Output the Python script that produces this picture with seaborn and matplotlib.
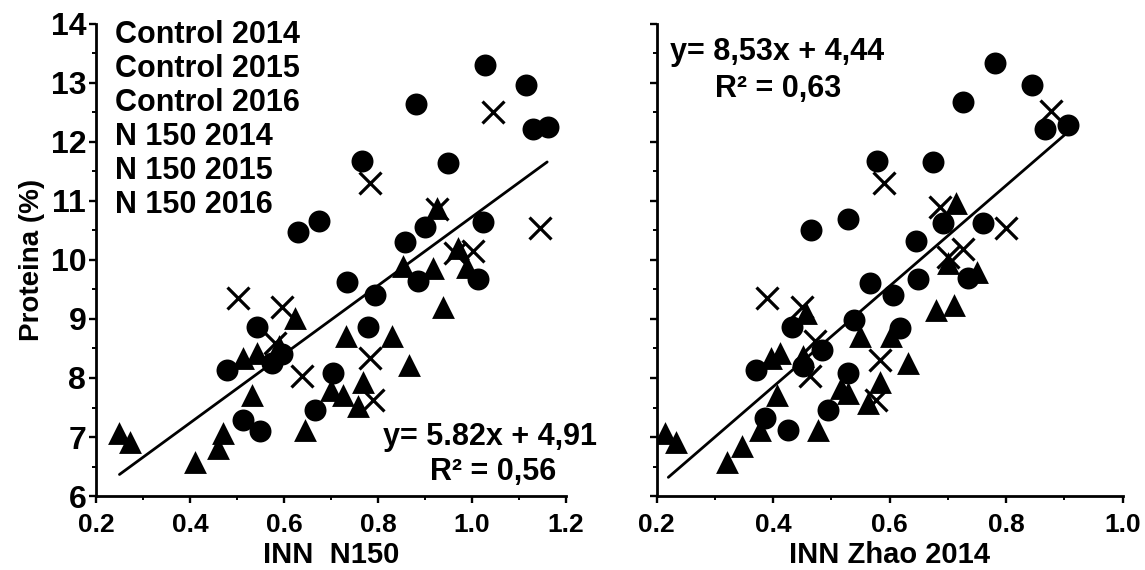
import numpy as np
import pandas as pd
import matplotlib
matplotlib.use("Agg")
import matplotlib.pyplot as plt
from matplotlib.ticker import MultipleLocator
import seaborn as sns

# values
groups = ["Control 2014", "Control 2015", "Control 2016",
          "N 150 2014", "N 150 2015", "N 150 2016"]

# left panel: INN N150
left_circle_x = [1.028, 1.114, 0.881, 1.130, 1.162, 0.765, 0.948, 1.024, 0.630, 0.675, 0.900, 0.857, 0.735,
                 0.886, 1.013, 0.794, 0.542, 0.779, 0.478, 0.575, 0.595, 0.705, 0.513, 0.549, 0.666]
left_circle_y = [13.30, 12.96, 12.65, 12.22, 12.25, 11.68, 11.65, 10.64, 10.48, 10.66, 10.56, 10.31, 9.62,
                 9.64, 9.67, 9.41, 8.86, 8.86, 8.14, 8.25, 8.40, 8.08, 7.29, 7.11, 7.45]
left_tri_x = [0.925, 0.970, 0.854, 0.918, 0.990, 0.939, 0.623, 0.733, 0.829, 0.865, 0.513, 0.542, 0.590,
              0.531, 0.701, 0.726, 0.769, 0.758, 0.645, 0.471, 0.460, 0.411, 0.250, 0.272]
left_tri_y = [10.88, 10.20, 9.90, 9.87, 9.88, 9.21, 9.02, 8.71, 8.71, 8.22, 8.34, 8.42, 8.55,
              7.71, 7.80, 7.71, 7.94, 7.52, 7.12, 7.06, 6.81, 6.58, 7.06, 6.92]
left_cross_x = [1.045, 0.783, 1.145, 0.964, 1.003, 0.925, 0.503, 0.595, 0.638, 0.783, 0.790, 0.580]
left_cross_y = [12.50, 11.31, 10.54, 10.12, 10.15, 10.86, 9.36, 9.21, 8.03, 8.34, 7.63, 8.60]

# right panel: INN Zhao 2014
right_circle_x = [0.781, 0.845, 0.726, 0.866, 0.906, 0.579, 0.674, 0.465, 0.529, 0.760, 0.691, 0.646, 0.566,
                  0.649, 0.734, 0.606, 0.538, 0.433, 0.617, 0.483, 0.371, 0.451, 0.529, 0.494, 0.386, 0.426]
right_circle_y = [13.33, 12.96, 12.67, 12.22, 12.29, 11.68, 11.66, 10.50, 10.69, 10.63, 10.62, 10.32, 9.61,
                  9.67, 9.70, 9.41, 8.99, 8.87, 8.85, 8.48, 8.14, 8.20, 8.08, 7.46, 7.32, 7.12]
right_tri_x = [0.714, 0.700, 0.750, 0.680, 0.711, 0.457, 0.549, 0.603, 0.411, 0.397, 0.451, 0.631,
               0.517, 0.529, 0.583, 0.563, 0.406, 0.477, 0.377, 0.346, 0.321, 0.214, 0.233]
right_tri_y = [10.97, 9.95, 9.80, 9.16, 9.24, 9.10, 8.71, 8.71, 8.42, 8.34, 8.37, 8.25,
               7.83, 7.74, 7.94, 7.57, 7.71, 7.12, 7.12, 6.84, 6.58, 7.06, 6.92]
right_cross_x = [0.877, 0.591, 0.800, 0.686, 0.726, 0.700, 0.389, 0.450, 0.471, 0.463, 0.583, 0.577]
right_cross_y = [12.53, 11.31, 10.55, 10.89, 10.18, 10.05, 9.36, 9.21, 8.62, 8.03, 8.31, 7.63]

# fitted lines shown on the chart
left_fit = (5.82, 4.91, 0.25, 1.16)
right_fit = (8.53, 4.44, 0.22, 0.905)

sns.set_style("ticks")
plt.rcParams['font.family'] = ['Liberation Sans', 'DejaVu Sans']
plt.rcParams['text.color'] = 'black'
plt.rcParams['axes.labelcolor'] = 'black'
plt.rcParams['xtick.color'] = 'black'
plt.rcParams['ytick.color'] = 'black'
plt.rcParams['axes.edgecolor'] = 'black'

fig = plt.figure(figsize=(11.45, 5.70), dpi=100)
ax1 = fig.add_axes([0.0838, 0.1298, 0.4105, 0.8282])
ax2 = fig.add_axes([0.5735, 0.1298, 0.4070, 0.8282])


def draw_panel(ax, cx, cy, tx, ty, xx, xy, fit):
    sns.scatterplot(x=cx, y=cy, ax=ax, marker='o', s=250, color='black', linewidth=0)
    sns.scatterplot(x=tx, y=ty, ax=ax, marker='^', s=270, color='black', linewidth=0)
    sns.scatterplot(x=xx, y=xy, ax=ax, marker='x', s=250, color='black', linewidth=2.3)
    slope, icpt, x0, x1 = fit
    lx = np.array([x0, x1])
    ax.plot(lx, slope * lx + icpt, color='black', lw=2.0)
    ax.set_ylim(6, 14)
    ax.yaxis.set_major_locator(MultipleLocator(1))
    ax.yaxis.set_minor_locator(MultipleLocator(0.5))
    ax.xaxis.set_major_locator(MultipleLocator(0.2))
    ax.xaxis.set_minor_locator(MultipleLocator(0.1))
    for side in ['top', 'right']:
        ax.spines[side].set_visible(False)
    for side in ['left', 'bottom']:
        ax.spines[side].set_linewidth(2.0)
    ax.tick_params(which='major', length=5, width=1.7, color='black')
    ax.tick_params(which='minor', length=3, width=1.4, color='black')
    ax.tick_params(axis='x', labelsize=19, pad=7)
    ax.tick_params(axis='y', labelsize=23, pad=2)


draw_panel(ax1, left_circle_x, left_circle_y, left_tri_x, left_tri_y,
           left_cross_x, left_cross_y, left_fit)
ax1.set_xlim(0.2, 1.2)
ax1.set_xticks([0.2, 0.4, 0.6, 0.8, 1.0, 1.2])
ax1.set_xticklabels(['0.2', '0.4', '0.6', '0.8', '1.0', '1.2'])
ax1.set_yticks([6, 7, 8, 9, 10, 11, 12, 13, 14])
ax1.set_yticklabels(['6', '7', '8', '9', '10', '11', '12', '13', '14'])
for lab in ax1.get_xticklabels() + ax1.get_yticklabels():
    lab.set_fontweight('bold')
ax1.set_xlabel('INN  N150', fontsize=21, fontweight='bold', labelpad=3)
ax1.set_ylabel('Proteina (%)', fontsize=20, fontweight='bold', labelpad=4)

for i, g in enumerate(groups):
    ax1.text(0.24, 13.81 - i * 0.575, g, fontsize=22, fontweight='bold', va='center', ha='left')
ax1.text(0.81, 7.0, 'y= 5.82x + 4,91', fontsize=22, fontweight='bold', va='center', ha='left', clip_on=False)
ax1.text(0.91, 6.4, 'R² = 0,56', fontsize=22, fontweight='bold', va='center', ha='left')

draw_panel(ax2, right_circle_x, right_circle_y, right_tri_x, right_tri_y,
           right_cross_x, right_cross_y, right_fit)
ax2.set_xlim(0.2, 1.0)
ax2.set_xticks([0.2, 0.4, 0.6, 0.8, 1.0])
ax2.set_xticklabels(['0.2', '0.4', '0.6', '0.8', '1.0'])
for lab in ax2.get_xticklabels():
    lab.set_fontweight('bold')
ax2.tick_params(axis='y', labelleft=False)
ax2.set_xlabel('INN Zhao 2014', fontsize=21, fontweight='bold', labelpad=3)
ax2.set_ylabel('')
ax2.text(0.223, 13.52, 'y= 8,53x + 4,44', fontsize=22, fontweight='bold', va='center', ha='left')
ax2.text(0.30, 12.9, 'R² = 0,63', fontsize=22, fontweight='bold', va='center', ha='left')

fig.savefig('out.png', dpi=100)
